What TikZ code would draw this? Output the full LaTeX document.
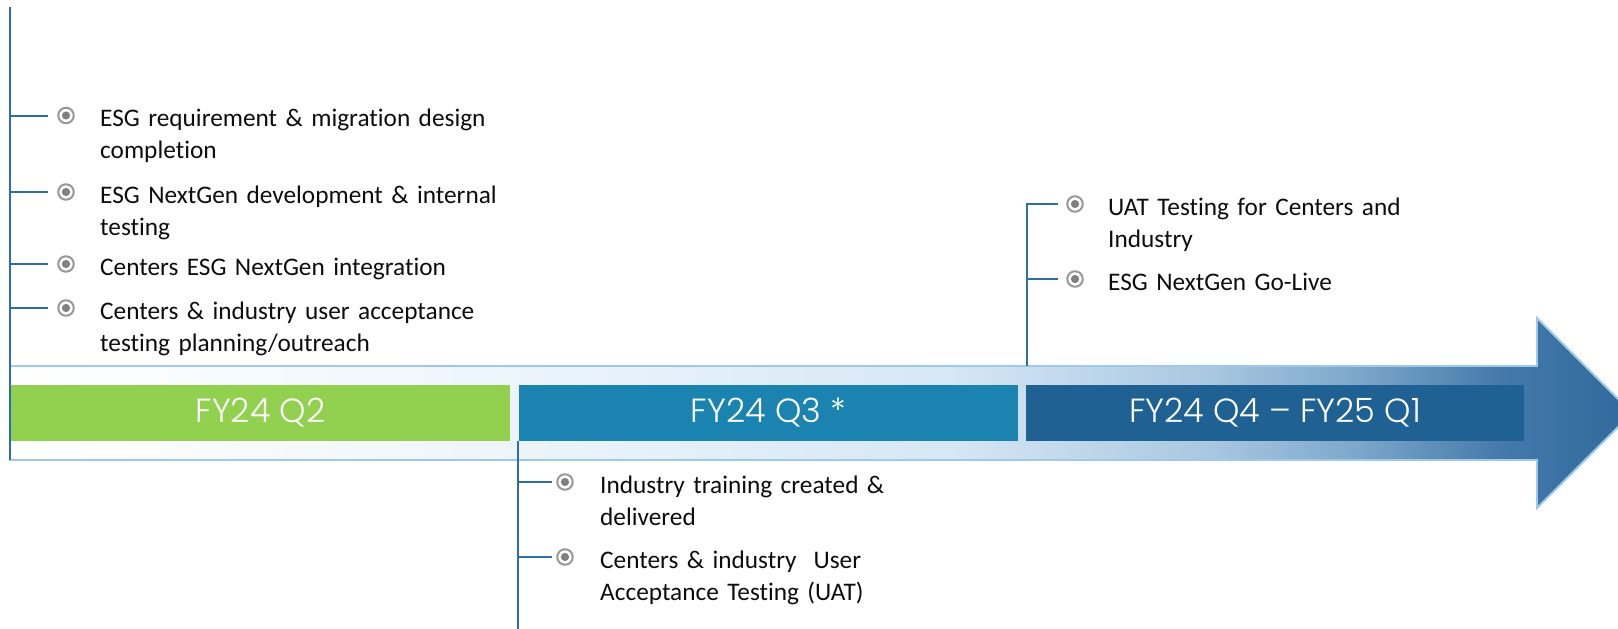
\documentclass[tikz,border=0pt]{standalone}
\usepackage{fontspec}
\setmainfont{Carlito}[Ligatures={NoCommon,TeX}]
\newfontfamily\barfont{Poppins Light}
\definecolor{q2green}{HTML}{92D050}
\definecolor{q3blue}{HTML}{1A83AF}
\definecolor{q4blue}{HTML}{1F6193}
\definecolor{tlblue}{HTML}{2F6EA5}
\definecolor{arrowedge}{HTML}{9CC9EC}
\definecolor{bulring}{HTML}{979797}
\definecolor{buldot}{HTML}{808080}
\definecolor{textblack}{HTML}{0D0D0D}
\definecolor{ar0}{HTML}{FFFFFF}
\definecolor{ar1}{HTML}{EEF5FB}
\definecolor{ar2}{HTML}{D6E7F5}
\definecolor{ar3}{HTML}{A9C7E0}
\definecolor{ar4}{HTML}{7DA7CB}
\definecolor{ar5}{HTML}{5689B4}
\definecolor{ar6}{HTML}{4479AB}
\definecolor{ar7}{HTML}{30699B}
\pgfdeclarehorizontalshading{arrowshade}{100bp}{color(0bp)=(ar0); color(25bp)=(ar0); color(40bp)=(ar1); color(54bp)=(ar2); color(62bp)=(ar3); color(66.5bp)=(ar4); color(69.5bp)=(ar5); color(71bp)=(ar6); color(75bp)=(ar7); color(100bp)=(ar7)}
\tikzset{
  bar/.style={minimum height=56, inner sep=0, text=white, font=\barfont\fontsize{33.5}{36}\selectfont},
  tl/.style={draw=tlblue, line width=2},
  bul/.style={circle, draw=bulring, line width=2, minimum size=15.5, inner sep=0, outer sep=0,
    path picture={\fill[buldot] (path picture bounding box.center) circle (4.1);}},
  item/.style={anchor=base west, inner sep=0, align=left, text width=440, text=textblack,
    font=\fontsize{25.3}{31.6}\selectfont},
}
\begin{document}
\begin{tikzpicture}[x=1pt,y=-1pt]
\useasboundingbox (0,0) rectangle (1618,629);
\clip (0,0) rectangle (1618,629);
% arrow
\path[shading=arrowshade, draw=arrowedge, line width=1.8]
  (10,366) -- (1537,366) -- (1537,318) -- (1632,413) -- (1537,508) -- (1537,460) -- (10,460) -- cycle;
% bars
\node[bar, fill=q2green, minimum width=499] (q2) at (260.5,412.5) {FY24 Q2};
\node[bar, fill=q3blue, minimum width=499] (q3) at (768.5,412.5) {FY24 Q3 *};
\node[bar, fill=q4blue, minimum width=498] (q4) at (1275,412.5) {FY24 Q4 – FY25 Q1};
% left group
\coordinate (ltop) at (10,7);
\coordinate (lbot) at (10,460);
\draw[tl] (ltop) -- (lbot);
\foreach \n/\y in {1/115.5,2/192,3/264,4/308}{
  \coordinate (lt\n) at (10,\y);
  \node[bul] (lb\n) at (66,\y) {};
  \draw[tl, shorten >=10] (lt\n) -- (lb\n);
}
\node[item] (lx1) at (100,126.5) {ESG requirement \& migration design\\completion};
\node[item] (lx2) at (100,203.5) {ESG NextGen development \& internal\\testing};
\node[item] (lx3) at (100,275.5) {Centers ESG NextGen integration};
\node[item] (lx4) at (100,319.5) {Centers \& industry user acceptance\\testing planning/outreach};
% Q3 group
\coordinate (mtop) at (518,441);
\coordinate (mbot) at (518,629);
\draw[tl] (mtop) -- (mbot);
\foreach \n/\y in {1/482,2/557}{
  \coordinate (mt\n) at (518,\y);
  \node[bul] (mb\n) at (565,\y) {};
  \draw[tl, shorten >=5.25] (mt\n) -- (mb\n);
}
\node[item] (mx1) at (600,493.5) {Industry training created \&\\delivered};
\node[item] (mx2) at (600,568.5) {Centers \& industry\ \ User\\Acceptance Testing (UAT)};
% right group
\coordinate (rbot) at (1027,366);
\node[bul] (rb1) at (1075,204) {};
\node[bul] (rb2) at (1075,279) {};
\coordinate (rt2) at (1027,279);
\draw[tl, shorten >=9.25] (rbot) |- (rb1);
\draw[tl, shorten >=9.25] (rt2) -- (rb2);
\node[item] (rx1) at (1108,215.5) {UAT Testing for Centers and\\Industry};
\node[item] (rx2) at (1108,290.5) {ESG NextGen Go-Live};
\end{tikzpicture}
\end{document}
